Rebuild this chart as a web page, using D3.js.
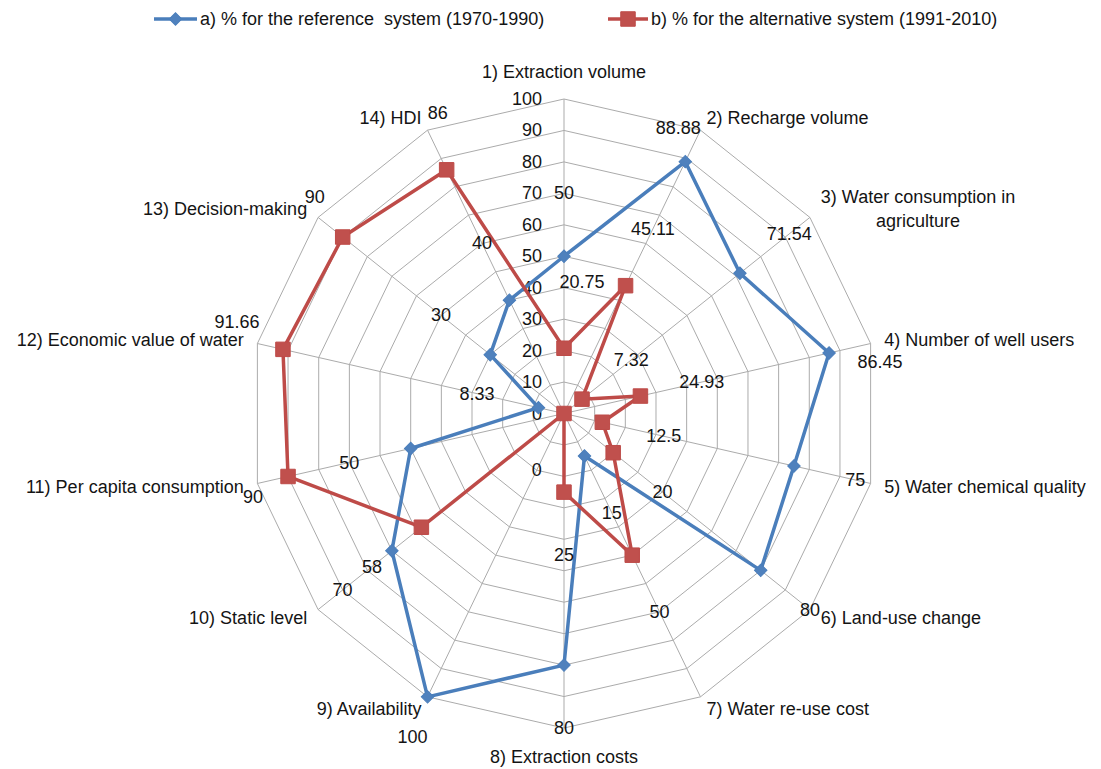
<!DOCTYPE html>
<html>
<head>
<meta charset="utf-8">
<script src="https://cdn.jsdelivr.net/npm/d3@7"></script>
<style>
  body { margin: 0; background: #fff; }
  text { font-family: "Liberation Sans", Arial, sans-serif; font-size: 18px; fill: #141414; }
</style>
</head>
<body>
<svg id="chart" width="1101" height="769"></svg>
<script>
// radar chart, 14 indicators, two periods

const categories = [
  "1) Extraction volume",
  "2) Recharge volume",
  "3) Water consumption in\nagriculture",
  "4) Number of well users",
  "5) Water chemical quality",
  "6) Land-use change",
  "7) Water re-use  cost",
  "8) Extraction costs",
  "9) Availability",
  "10) Static level",
  "11) Per capita consumption",
  "12) Economic value of water",
  "13) Decision-making",
  "14) HDI"
];
const seriesNames = [
  "a) % for the reference  system (1970-1990)",
  "b) % for the alternative system (1991-2010)"
];
const referenceValues = [50, 88.88, 71.54, 86.45, 75, 80, 15, 80, 100, 70, 50, 8.33, 30, 40];
const alternativeValues = [20.75, 45.11, 7.32, 24.93, 12.5, 20, 50, 25, 0, 58, 90, 91.66, 90, 86];
const tickValues = [0, 10, 20, 30, 40, 50, 60, 70, 80, 90, 100];

const w = 1101;
const h = 769;
const cx = 564;
const cy = 413.5;
const R = 314.5;
const n = categories.length;
const blue = "#4f81bd";
const red = "#c0504d";
const gridColor = "#ababab";

// labels Excel pushed off the default spot (dx, dy from the point)
const labelNudge = {
  "0-1": [-7, -34], "0-3": [51, 9], "0-8": [-15, 40],
  "1-0": [18, -66], "1-10": [-35, 21], "1-11": [-46, -27], "1-12": [-28, -40], "1-13": [-9, -57]
};

const svg = d3.select("#chart");

const rScale = d3.scaleLinear().domain([0, 100]).range([0, R]);
const angle = d3.scaleLinear().domain([0, n]).range([0, 2 * Math.PI]);
const pt = (i, v) => [cx + rScale(v) * Math.sin(angle(i)), cy - rScale(v) * Math.cos(angle(i))];

// GRID
const grid = svg.append("g").attr("class", "grid");
grid.selectAll(".ring")
  .data(tickValues.filter(t => t > 0))
  .join("polygon")
  .attr("class", "ring")
  .attr("points", t => d3.range(n).map(i => pt(i, t).join(",")).join(" "))
  .attr("fill", "none")
  .attr("stroke", gridColor)
  .attr("stroke-width", 1);

grid.selectAll(".spoke")
  .data(d3.range(n))
  .join("line")
  .attr("class", "spoke")
  .attr("x1", cx).attr("y1", cy)
  .attr("x2", i => pt(i, 100)[0])
  .attr("y2", i => pt(i, 100)[1])
  .attr("stroke", gridColor)
  .attr("stroke-width", 1);

// TICK LABELS on first axis
svg.append("g").selectAll("text")
  .data(tickValues)
  .join("text")
  .attr("x", cx - 22)
  .attr("y", t => cy - rScale(t))
  .attr("text-anchor", "end")
  .attr("dominant-baseline", "central")
  .text(t => t);

// CATEGORY LABELS
const catG = svg.append("g").attr("class", "cats");
categories.forEach((c, i) => {
  const s = Math.sin(angle(i)), co = Math.cos(angle(i));
  const [px, py] = pt(i, 100);
  let x = px + 14 * s;
  let y = py - 14 * co;
  let anchor = "middle";
  if (s > 0.1) anchor = "start";
  else if (s < -0.1) anchor = "end";
  else y += co > 0 ? -13 : 15;
  const lines = c.split("\n");
  const t = catG.append("text")
    .attr("text-anchor", anchor)
    .attr("dominant-baseline", "central");
  const spans = lines.map((l, k) => t.append("tspan")
    .attr("x", x)
    .attr("y", y + (k - (lines.length - 1) / 2) * 24)
    .text(l));
  if (lines.length > 1) {
    const widths = spans.map(sp => sp.node().getComputedTextLength());
    const maxW = d3.max(widths);
    spans.forEach((sp, k) => sp.attr("x", x + (maxW - widths[k]) / 2));
  }
});

// SERIES
const allSeries = [
  {name: seriesNames[0], values: referenceValues, color: blue, stroke: "#4a7ebb", marker: "diamond"},
  {name: seriesNames[1], values: alternativeValues, color: red, stroke: "#be4b48", marker: "square"}
];

const line = d3.line().curve(d3.curveLinearClosed);
const diamond = d3.symbol(d3.symbolSquare, 78)();
const square = d3.symbol(d3.symbolSquare, 210)();

const drawMarker = (g, type, color, stroke) => {
  g.append("path")
    .attr("d", type === "diamond" ? diamond : square)
    .attr("transform", type === "diamond" ? "rotate(45)" : null)
    .attr("fill", color)
    .attr("stroke", stroke)
    .attr("stroke-width", 1);
};

allSeries.forEach((ser, si) => {
  const g = svg.append("g").attr("class", "series-" + si);
  g.append("path")
    .attr("d", line(ser.values.map((v, i) => pt(i, v))))
    .attr("fill", "none")
    .attr("stroke", ser.stroke)
    .attr("stroke-width", 3.5)
    .attr("stroke-linejoin", "round");

  ser.values.forEach((v, i) => {
    const [x, y] = pt(i, v);
    const m = g.append("g").attr("transform", `translate(${x},${y})`);
    drawMarker(m, ser.marker, ser.color, ser.stroke);
  });
});

// DATA LABELS (drawn on top of everything)
const labG = svg.append("g").attr("class", "data-labels");
allSeries.forEach((ser, si) => {
  ser.values.forEach((v, i) => {
    const [x, y] = pt(i, v);
    const s = Math.sin(angle(i)), co = Math.cos(angle(i));
    const nudge = labelNudge[si + "-" + i] || [63 * s, -63 * co];
    labG.append("text")
      .attr("x", x + nudge[0])
      .attr("y", y + nudge[1])
      .attr("text-anchor", "middle")
      .attr("dominant-baseline", "central")
      .text(v);
  });
});

// LEGEND
const legendPos = [154, 608];
const legendLen = [43, 40];
allSeries.forEach((ser, si) => {
  const lg = svg.append("g").attr("transform", `translate(${legendPos[si]},19)`);
  lg.append("line")
    .attr("x1", 0).attr("x2", legendLen[si])
    .attr("stroke", ser.stroke)
    .attr("stroke-width", 3.5);
  const m = lg.append("g").attr("transform", `translate(${legendLen[si] / 2},0)`);
  drawMarker(m, ser.marker, ser.color, ser.stroke);
  lg.append("text")
    .attr("x", legendLen[si] + 3)
    .attr("dominant-baseline", "central")
    .style("white-space", "pre")
    .text(ser.name);
});
</script>
</body>
</html>
